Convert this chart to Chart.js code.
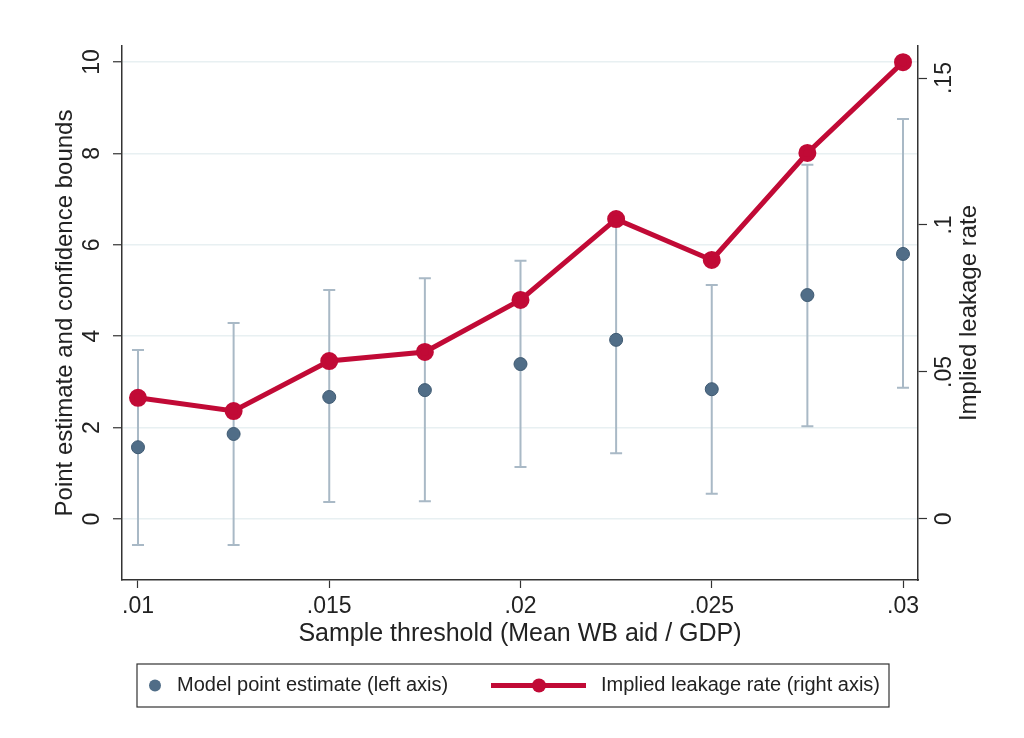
<!DOCTYPE html>
<html>
<head>
<meta charset="utf-8">
<script src="https://cdn.jsdelivr.net/npm/chart.js@4.4.0/dist/chart.umd.min.js"></script>
<style>
  html, body { margin: 0; padding: 0; background: #fff; }
  #wrap { width: 1024px; height: 738px; }
</style>
</head>
<body>
<div id="wrap"><canvas id="chart-main"></canvas></div>
<script>
	// data
	var thresholds = [0.01, 0.0125, 0.015, 0.0175, 0.02, 0.0225, 0.025, 0.0275, 0.03];
	var pointEst = [1.57, 1.86, 2.67, 2.82, 3.39, 3.92, 2.84, 4.90, 5.80];
	var ciLower = [-0.57, -0.57, 0.37, 0.39, 1.14, 1.44, 0.55, 2.03, 2.87];
	var ciUpper = [3.70, 4.29, 5.01, 5.27, 5.65, 6.52, 5.12, 7.75, 8.75];
	var leakage = [0.0412, 0.0367, 0.0537, 0.0568, 0.0745, 0.1020, 0.0881, 0.1245, 0.1554];

	var xTicks = [0.01, 0.015, 0.02, 0.025, 0.03];
	var xTickLabels = [".01", ".015", ".02", ".025", ".03"];
	var leftTicks = [0, 2, 4, 6, 8, 10];
	var leftTickLabels = ["0", "2", "4", "6", "8", "10"];
	var rightTicks = [0, 0.05, 0.1, 0.15];
	var rightTickLabels = ["0", ".05", ".1", ".15"];

	var FONT = "'Liberation Sans', Arial, sans-serif";
	var RED = "#c10a36";
	var DOT = "#506d87";
	var BAR = "#a9b9c6";
	var AXIS = "#333333";

	function pairs(ys) {
		return thresholds.map(function (x, i) { return { x: x, y: ys[i] }; });
	}

	// error bars behind the markers
	var ciPlugin = {
		id: "ciBars",
		beforeDatasetsDraw: function (chart) {
			var ctx = chart.ctx, xs = chart.scales.x, ys = chart.scales.y;
			ctx.save();
			ctx.strokeStyle = BAR;
			ctx.lineWidth = 2;
			for (var i = 0; i < thresholds.length; i++) {
				var px = xs.getPixelForValue(thresholds[i]);
				var lo = ys.getPixelForValue(ciLower[i]);
				var hi = ys.getPixelForValue(ciUpper[i]);
				ctx.beginPath();
				ctx.moveTo(px, lo); ctx.lineTo(px, hi);
				ctx.moveTo(px - 6, lo); ctx.lineTo(px + 6, lo);
				ctx.moveTo(px - 6, hi); ctx.lineTo(px + 6, hi);
				ctx.stroke();
			}
			ctx.restore();
		}
	};

	// rotated y tick labels, right title and boxed legend (Stata look)
	var decoPlugin = {
		id: "deco",
		afterDraw: function (chart) {
			var ctx = chart.ctx;
			var ys = chart.scales.y, y1 = chart.scales.y1;
			ctx.save();
			ctx.fillStyle = "#222";
			ctx.font = "23px " + FONT;
			ctx.textAlign = "center";
			ctx.textBaseline = "middle";

			function vtext(t, x, y) {
				ctx.save();
				ctx.translate(x, y);
				ctx.rotate(-Math.PI / 2);
				ctx.fillText(t, 0, 0);
				ctx.restore();
			}
			leftTicks.forEach(function (v, i) {
				vtext(leftTickLabels[i], 93, ys.getPixelForValue(v));
			});
			rightTicks.forEach(function (v, i) {
				vtext(rightTickLabels[i], 945, y1.getPixelForValue(v));
			});
			var ca = chart.chartArea;
			ctx.font = "24px " + FONT;
			vtext("Implied leakage rate", 969, (ca.top + ca.bottom) / 2);

			// legend
			var bx = 137, by = 664, bw = 752, bh = 43;
			ctx.strokeStyle = AXIS;
			ctx.lineWidth = 1.2;
			ctx.strokeRect(bx, by, bw, bh);
			var cy = by + bh / 2;
			ctx.font = "20px " + FONT;
			ctx.textAlign = "left";
			ctx.fillStyle = DOT;
			ctx.beginPath(); ctx.arc(155, cy, 6, 0, Math.PI * 2); ctx.fill();
			ctx.fillStyle = "#222";
			ctx.fillText("Model point estimate (left axis)", 177, cy);
			ctx.strokeStyle = RED;
			ctx.lineWidth = 5;
			ctx.beginPath(); ctx.moveTo(491, cy); ctx.lineTo(586, cy); ctx.stroke();
			ctx.fillStyle = RED;
			ctx.beginPath(); ctx.arc(539, cy, 7, 0, Math.PI * 2); ctx.fill();
			ctx.fillStyle = "#222";
			ctx.fillText("Implied leakage rate (right axis)", 601, cy);
			ctx.restore();
		}
	};

	var ctx = document.getElementById("chart-main").getContext("2d");

	new Chart(ctx, {
		type: "scatter",
		data: {
			datasets: [{
				label: "Model point estimate (left axis)",
				data: pairs(pointEst),
				yAxisID: "y",
				pointRadius: 6.5,
				pointBackgroundColor: DOT,
				pointBorderColor: "#3f5a72",
				pointBorderWidth: 1,
				order: 2
			}, {
				type: "line",
				label: "Implied leakage rate (right axis)",
				data: pairs(leakage),
				yAxisID: "y1",
				borderColor: RED,
				borderWidth: 5,
				pointRadius: 6.5,
				pointBackgroundColor: RED,
				pointBorderColor: RED,
				tension: 0,
				fill: false,
				order: 1
			}]
		},
		options: {
			responsive: true,
			maintainAspectRatio: false,
			animation: false,
			layout: { padding: { left: 0, right: 0, top: 46, bottom: 88 } },
			plugins: {
				legend: { display: false },
				tooltip: { enabled: false }
			},
			scales: {
				x: {
					type: "linear",
					min: 0.009582,
					max: 0.030392,
					afterBuildTicks: function (s) { s.ticks = xTicks.map(function (v) { return { value: v }; }); },
					afterFit: function (s) { s.height = 70; },
					grid: { drawOnChartArea: false, drawTicks: true, tickLength: 8, tickColor: AXIS, tickWidth: 1.2 },
					border: { color: AXIS, width: 1.5 },
					ticks: {
						padding: 5,
						maxRotation: 0,
						color: "#222",
						font: { size: 23, family: FONT },
						callback: function (v, i) { return xTickLabels[i]; }
					},
					title: {
						display: true,
						text: "Sample threshold (Mean WB aid / GDP)",
						color: "#222",
						font: { size: 25, family: FONT },
						padding: { top: 0, bottom: 1 }
					}
				},
				y: {
					position: "left",
					min: -1.335,
					max: 10.35,
					afterBuildTicks: function (s) { s.ticks = leftTicks.map(function (v) { return { value: v }; }); },
					afterFit: function (s) { s.width = 122; },
					grid: { color: "#e8f0f2", lineWidth: 1.5, drawTicks: true, tickLength: 9, tickColor: AXIS, tickWidth: 1.2 },
					border: { color: AXIS, width: 1.5 },
					ticks: { display: false },
					title: {
						display: true,
						text: "Point estimate and confidence bounds",
						color: "#222",
						font: { size: 24, family: FONT },
						padding: { top: 51, bottom: 0 }
					}
				},
				y1: {
					position: "right",
					min: -0.0208,
					max: 0.1609,
					afterBuildTicks: function (s) { s.ticks = rightTicks.map(function (v) { return { value: v }; }); },
					afterFit: function (s) { s.width = 106; },
					grid: { drawOnChartArea: false, drawTicks: true, tickLength: 9, tickColor: AXIS, tickWidth: 1.2 },
					border: { color: AXIS, width: 1.5 },
					ticks: { display: false }
				}
			}
		},
		plugins: [ciPlugin, decoPlugin]
	});
</script>
</body>
</html>
